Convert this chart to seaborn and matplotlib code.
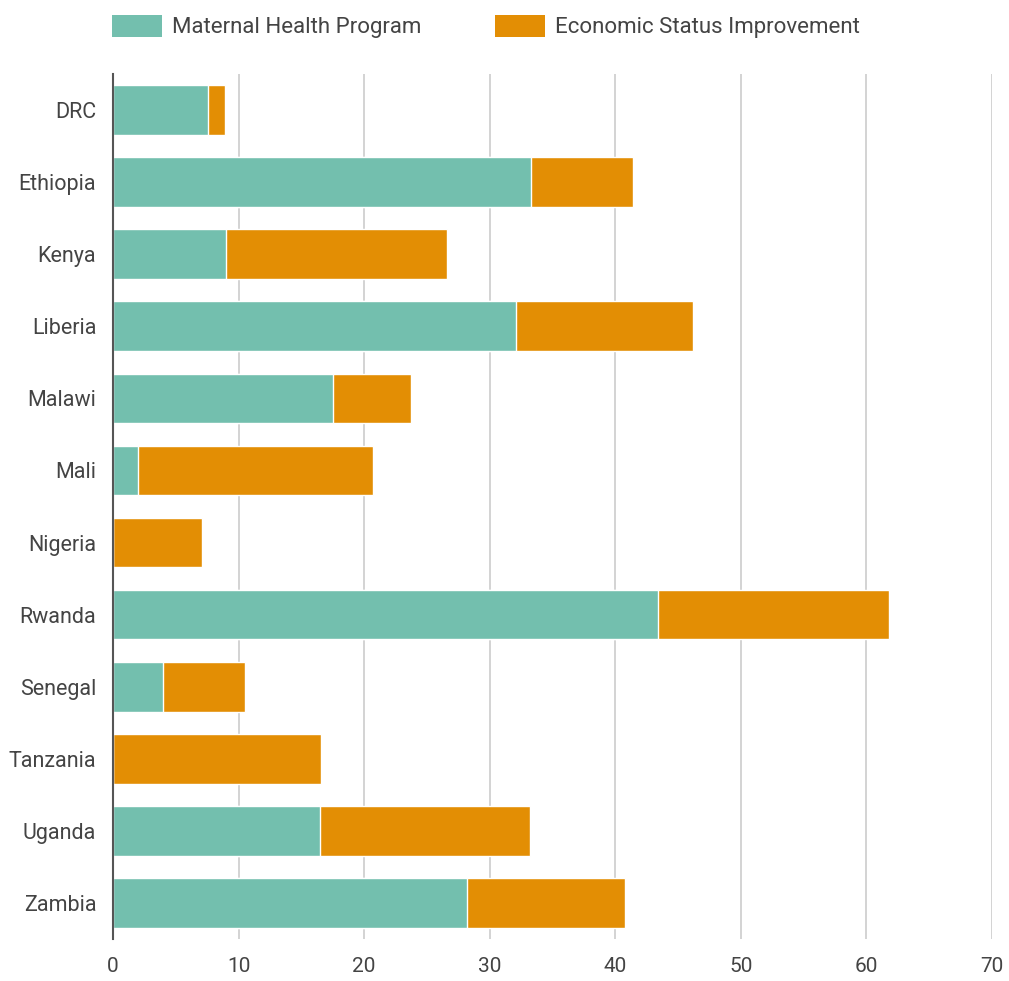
"""
Stacked horizontal bars: maternal health program vs economic status improvement
"""
import matplotlib
matplotlib.use("Agg")
import matplotlib.pyplot as plt
from matplotlib.patches import Patch
import seaborn as sns
import pandas as pd

countries = ["DRC", "Ethiopia", "Kenya", "Liberia", "Malawi", "Mali", "Nigeria",
             "Rwanda", "Senegal", "Tanzania", "Uganda", "Zambia"]
maternal = [7.6, 33.3, 9.0, 32.1, 17.5, 2.0, 0.0, 43.4, 4.0, 0.0, 16.5, 28.2]
economic = [1.3, 8.1, 17.6, 14.1, 6.2, 18.7, 7.1, 18.4, 6.5, 16.6, 16.7, 12.6]
series_names = ["Maternal Health Program", "Economic Status Improvement"]
xticks = [0, 10, 20, 30, 40, 50, 60, 70]

TEAL = "#73bfae"
ORANGE = "#e38e04"

sns.set_theme(style="white")
plt.rcParams["font.family"] = ["Roboto", "DejaVu Sans"]

df = pd.DataFrame({"country": countries, "maternal": maternal, "economic": economic})
df["total"] = df["maternal"] + df["economic"]

fig = plt.figure(figsize=(10.09, 9.81), dpi=100)
ax = fig.add_axes([113 / 1009, 1 - 939 / 981, (992 - 113) / 1009, (939 - 74) / 981])

# orange total first, teal drawn over it
sns.barplot(data=df, x="total", y="country", color=ORANGE, saturation=1,
            width=0.69, edgecolor="white", linewidth=1, ax=ax, zorder=2)
sns.barplot(data=df, x="maternal", y="country", color=TEAL, saturation=1,
            width=0.69, edgecolor="white", linewidth=1, ax=ax, zorder=3)

ax.set_xlim(0, 70)
ax.set_xticks(xticks)
ax.set_xticklabels([str(t) for t in xticks])
ax.set_xlabel("")
ax.set_ylabel("")
ax.xaxis.grid(True, color="#cccccc", linewidth=1.2, zorder=0)
ax.set_axisbelow(True)
for s in ["top", "right", "bottom"]:
    ax.spines[s].set_visible(False)
ax.spines["left"].set_color("#555555")
ax.spines["left"].set_linewidth(1.5)
ax.spines["left"].set_zorder(5)
ax.tick_params(axis="x", length=7, color="#cccccc", width=1.2, labelsize=15,
               labelcolor="#444444", pad=6)
ax.tick_params(axis="y", length=0, labelsize=15.5, labelcolor="#444444", pad=12)

handles = [Patch(facecolor=TEAL, edgecolor="none"), Patch(facecolor=ORANGE, edgecolor="none")]
fig.legend(handles, series_names, loc="upper left", bbox_to_anchor=(112 / 1009, 1 - 15 / 981),
           ncol=2, frameon=False, fontsize=16, handlelength=2.25, handleheight=1.13,
           handletextpad=0.45, columnspacing=3.3, borderpad=0, borderaxespad=0,
           labelcolor="#444444")

fig.savefig("out.png", dpi=100)
